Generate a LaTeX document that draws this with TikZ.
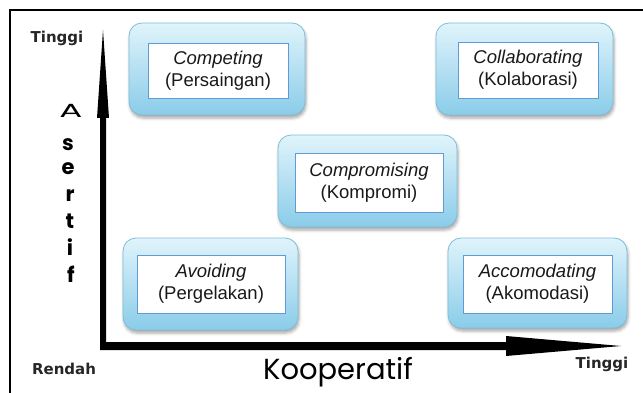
\documentclass[tikz,border=0pt]{standalone}
\usepackage{fontspec}
\setmainfont{Liberation Sans}
\newfontfamily\tagfont{DejaVu Sans}
\newfontfamily\geofamily{Poppins}
\usetikzlibrary{shadows.blur}

\definecolor{boxtop}{RGB}{224,244,251}
\definecolor{boxbot}{RGB}{138,204,233}
\definecolor{boxedge}{RGB}{125,190,216}
\definecolor{inneredge}{RGB}{95,155,215}

% geometric face for the axis titles
\newcommand{\geofont}[1]{\geofamily\fontsize{#1}{#1}\selectfont}

\tikzset{
  outerbox/.style={rounded corners=13pt, draw=boxedge, line width=0.8pt,
    top color=boxtop, bottom color=boxbot,
    blur shadow={shadow xshift=1pt, shadow yshift=-3pt, shadow blur radius=3pt, shadow opacity=35}},
  innerbox/.style={draw=inneredge, line width=0.9pt, fill=white, align=center,
    inner sep=0pt, text=black!90, font=\fontsize{18.5}{22}\selectfont},
  levellabel/.style={font=\tagfont\bfseries\fontsize{15}{15}\selectfont, text=black!85},
  axisletter/.style={anchor=base, inner sep=0pt, font=\geofont{21}\bfseries},
}

\begin{document}
\begin{tikzpicture}[x=1pt, y=-1pt]
\useasboundingbox (0,0) rectangle (643,393);

% open frame (left and top edges)
\draw[line width=1.2pt] (10,393) -- (10,10) -- (643,10);

% axes with their arrow heads
\coordinate (origin) at (100,350);
\coordinate (ytip) at (103,30);
\coordinate (xtip) at (621,346);
\fill[black] (origin) -- (100,118) -- (97,118) -- (ytip) -- (109,118) -- (106,118)
  -- (106,342) -- (506,342) -- (506,336) -- (xtip) -- (506,356) -- (506,350) -- cycle;

% level labels
\node[levellabel] (ytop) at (57,38) {Tinggi};
\node[levellabel] (low) at (64,369) {Rendah};
\node[levellabel] (xtop) at (602,364) {Tinggi};

% axis titles
\node[anchor=base, inner sep=0pt, font=\geofont{29}] (coop) at (338,379) {Kooperatif};
\node[axisletter, font=\geofont{19}, xscale=1.8] (a1) at (71,118) {A};
\node[axisletter] (a2) at (68,151) {s};
\node[axisletter] (a3) at (68,175) {e};
\node[axisletter] (a4) at (70,201) {r};
\node[axisletter] (a5) at (70,228) {t};
\node[axisletter] (a6) at (70,255) {i};
\node[axisletter] (a7) at (71,282) {f};

% style panels
\node[outerbox, minimum width=176pt, minimum height=92pt] (compO) at (217,69) {};
\node[innerbox, minimum width=140pt, minimum height=55pt] (comp) at (218,70.5) {\textit{Competing}\\(Persaingan)};

\node[outerbox, minimum width=177pt, minimum height=92pt] (collO) at (524.5,69) {};
\node[innerbox, minimum width=140pt, minimum height=56pt] (coll) at (528,70) {\textit{Collaborating}\\(Kolaborasi)};

\node[outerbox, minimum width=179pt, minimum height=92pt] (compromO) at (367.5,181) {};
\node[innerbox, minimum width=148pt, minimum height=59pt] (comprom) at (369,182.5) {\textit{Compromising}\\(Kompromi)};

\node[outerbox, minimum width=175pt, minimum height=92pt] (avoidO) at (210.5,284) {};
\node[innerbox, minimum width=148pt, minimum height=58pt] (avoid) at (211,284) {\textit{Avoiding}\\(Pergelakan)};

\node[outerbox, minimum width=179pt, minimum height=90pt] (accO) at (537.5,283) {};
\node[innerbox, minimum width=149pt, minimum height=58pt] (acc) at (537.5,284) {\textit{Accomodating}\\(Akomodasi)};
\end{tikzpicture}
\end{document}
